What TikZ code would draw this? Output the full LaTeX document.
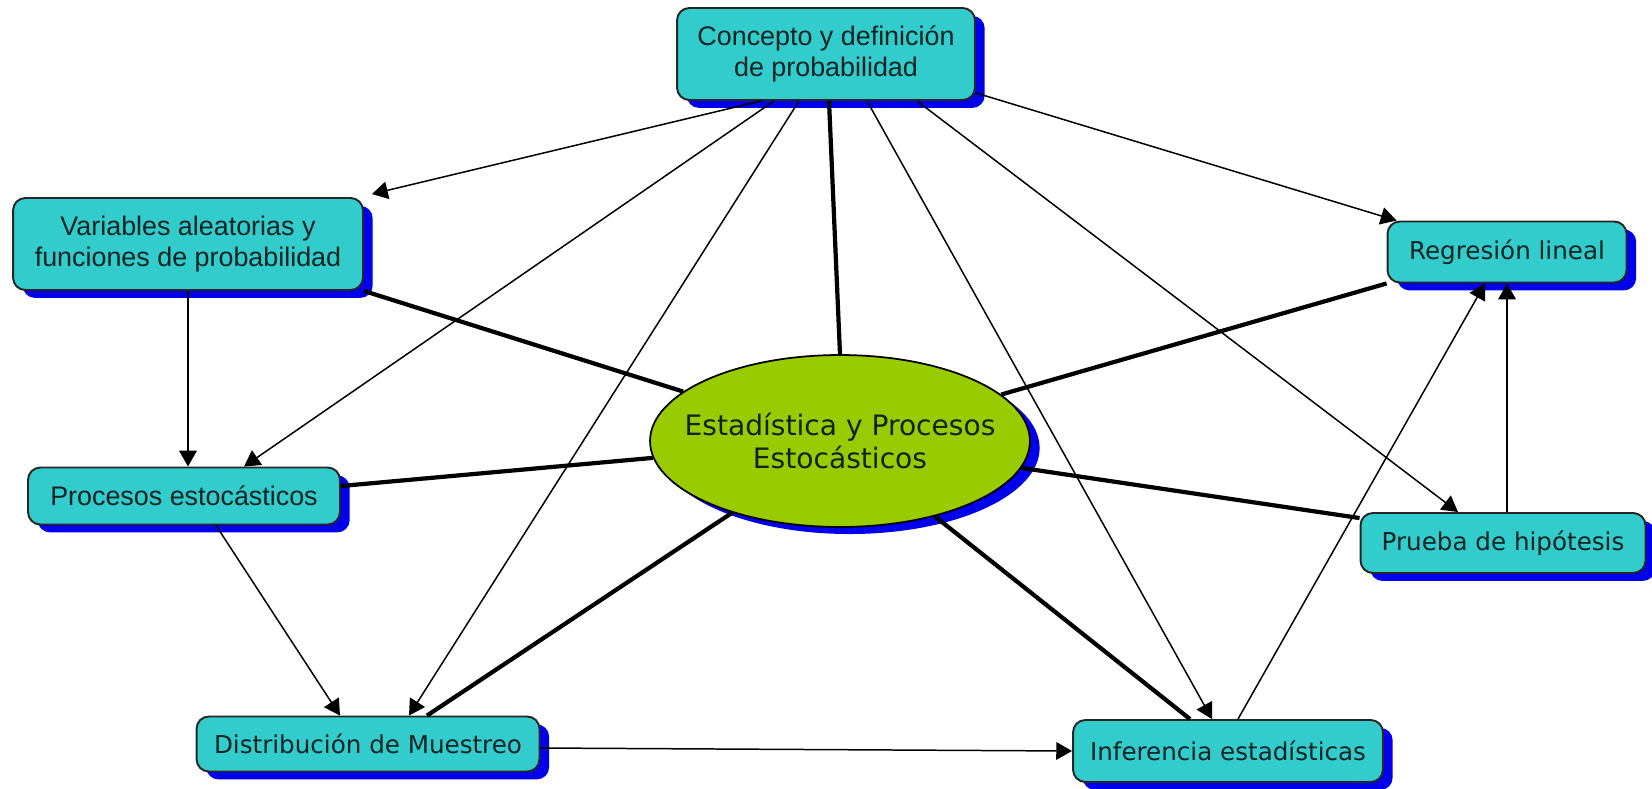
\documentclass[tikz,border=0pt]{standalone}
\usepackage{fontspec}
\setmainfont{DejaVu Sans}
\newfontfamily\arialfont{Liberation Sans}
\usepackage{tikz}
\usetikzlibrary{arrows.meta,calc,shapes.geometric,shadows,positioning}

\definecolor{tuerkis}{RGB}{51,204,204}
\definecolor{schattenblau}{RGB}{0,0,235}
\definecolor{gruen}{RGB}{153,204,0}
\definecolor{schrift}{RGB}{15,35,35}

\begin{document}
\begin{tikzpicture}[x=0.02cm,y=-0.02cm,
    kasten/.style={draw=black!85, line width=1.1pt, fill=tuerkis, rounded corners=7pt,
      align=center, text=schrift, inner sep=2pt,
      general shadow={fill=schattenblau, shadow xshift=5.5pt, shadow yshift=-4.5pt}},
    arialtext/.style={font=\fontsize{15.3}{18}\arialfont},
    verdtext/.style={font=\fontsize{14}{17}\selectfont},
    pfeil/.style={line width=0.85pt, -{Triangle[length=9pt,width=10pt]}},
    dick/.style={line width=2.4pt}]
        % Umgebung
        \useasboundingbox (0,0) rectangle (1652,788);
        
        % Mitte
        \node[ellipse, draw=black, line width=1pt, fill=gruen, minimum width=7.6cm, minimum height=3.44cm,
          inner xsep=-14pt, inner ysep=0pt,
          align=center, text=schrift, font=\fontsize{16}{19}\selectfont,
          general shadow={fill=schattenblau, shadow xshift=5.5pt, shadow yshift=-4pt}]
          (estad) at (840,441) {Estadística y Procesos\\Estocásticos};
        
        % Begriffe
        \node[kasten, arialtext, minimum width=5.96cm, minimum height=1.84cm] (conc) at (826,54)
          {Concepto y definición\\de probabilidad};
        \node[kasten, arialtext, minimum width=7cm, minimum height=1.84cm] (vars) at (188,244)
          {Variables aleatorias y\\funciones de probabilidad};
        \node[kasten, arialtext, minimum width=6.24cm, minimum height=1.14cm] (proc) at (184,496)
          {Procesos estocásticos};
        \node[kasten, verdtext, minimum width=6.86cm, minimum height=1.1cm] (dist) at (368,744)
          {Distribución de Muestreo};
        \node[kasten, verdtext, minimum width=6.2cm, minimum height=1.24cm] (infer) at (1228,751)
          {Inferencia estadísticas};
        \node[kasten, verdtext, minimum width=4.78cm, minimum height=1.22cm] (regr) at (1507,252)
          {Regresión lineal};
        \node[kasten, verdtext, minimum width=5.7cm, minimum height=1.2cm] (prueba) at (1503,543)
          {Prueba de hipótesis};
        
        % Pfeile vom Konzept
        \draw[pfeil] ($(conc.south)+(-65,0)$) -- ($(vars.north east)+(8,-3)$);
        \draw[pfeil] ($(conc.south)+(-52,0)$) -- ($(proc.north)+(60,0)$);
        \draw[pfeil] ($(conc.south)+(-27,0)$) -- ($(dist.north)+(41,0)$);
        \draw[pfeil] ($(conc.south)+(41,0)$) -- ($(infer.north)+(-16,0)$);
        \draw[pfeil] ($(conc.south)+(91,0)$) -- ($(prueba.north)+(-45,0)$);
        \draw[pfeil] ($(conc.south east)+(0,-8)$) -- ($(regr.north west)+(10,0)$);
        
        % dicke Linien zur Mitte
        \draw[dick] ($(conc.south)+(3,0)$) -- (estad.north);
        \draw[dick] (vars.south east) -- (estad);
        \draw[dick] ($(proc.east)+(0,-10)$) -- (estad);
        \draw[dick] ($(dist.north)+(59,0)$) -- (estad);
        \draw[dick] (estad) -- ($(infer.north)+(-38,0)$);
        \draw[dick] (estad) -- ($(prueba.north west)+(0,6)$);
        \draw[dick] (estad) -- (regr.south west);
        
        % weitere Pfeile
        \draw[pfeil] (vars.south) -- (vars.south |- proc.north);
        \draw[pfeil] ($(proc.south)+(32,0)$) -- ($(dist.north)+(-28,0)$);
        \draw[pfeil] ($(dist.east)+(0,4)$) -- (infer.west);
        \draw[pfeil] ($(infer.north)+(10,0)$) -- ($(regr.south)+(-22,0)$);
        \draw[pfeil] (prueba.north -| regr.south) -- (regr.south);
        
    \end{tikzpicture}
\end{document}
